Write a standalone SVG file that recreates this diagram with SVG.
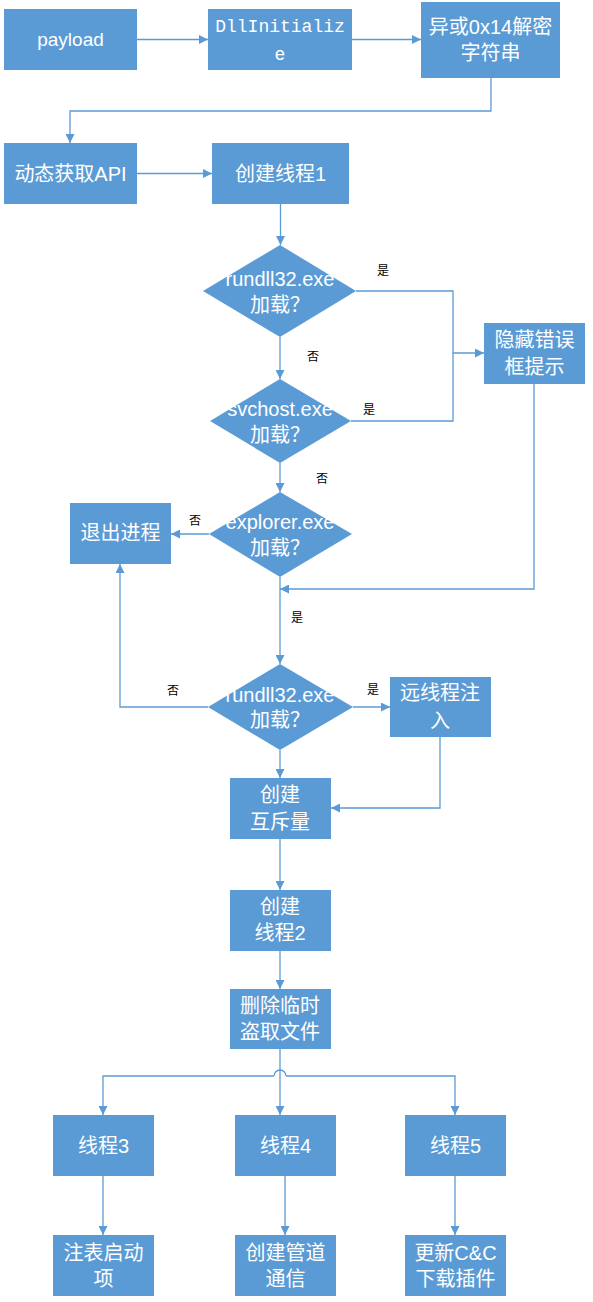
<svg xmlns="http://www.w3.org/2000/svg" width="593" height="1302" viewBox="0 0 593 1302">
<style>
.n{fill:#5B9BD5;}
.t{fill:#fff;font-family:"Liberation Sans","Noto Sans CJK SC",sans-serif;font-size:20px;text-anchor:middle;dominant-baseline:central;}
.mono{font-family:"Liberation Mono","Noto Sans CJK SC",monospace;font-size:18px;}
.c{fill:none;stroke:#5B9BD5;stroke-width:1.3;}
.a{marker-end:url(#ah);}
.l{fill:#000;font-family:"Liberation Sans","Noto Sans CJK SC",sans-serif;font-size:12px;text-anchor:middle;dominant-baseline:central;}
</style>
<defs>
<marker id="ah" markerUnits="userSpaceOnUse" markerWidth="9" markerHeight="9" viewBox="0 0 9 9" refX="9" refY="4.5" orient="auto">
<path d="M0,0 L9,4.5 L0,9 z" fill="#5B9BD5"/>
</marker>
</defs>
<rect width="593" height="1302" fill="#fff"/>
<g id="connectors">
<path class="c a" d="M137 39.5 H208"/>
<path class="c a" d="M352 39.5 H421"/>
<path class="c a" d="M491 78 V111 H70 V143"/>
<path class="c a" d="M137 173.5 H212"/>
<path class="c a" d="M280.5 204 V245"/>
<path class="c a" d="M356 291 H453 V353 H484"/>
<path class="c" d="M351 421 H453 V353"/>
<path class="c a" d="M280 337 V379"/>
<path class="c a" d="M280 463 V492"/>
<path class="c a" d="M209 534 H171"/>
<path class="c a" d="M534 384 V589 H280"/>
<path class="c a" d="M280 577 V664"/>
<path class="c a" d="M208 707 H120 V564"/>
<path class="c a" d="M353 707 H390"/>
<path class="c a" d="M280 750 V778"/>
<path class="c a" d="M440 737 V808 H331"/>
<path class="c a" d="M280 839 V890"/>
<path class="c a" d="M280 951 V989"/>
<path class="c a" d="M280 1049 V1115"/>
<path class="c a" d="M274 1076 H103 V1115"/>
<path class="c a" d="M286 1076 H455 V1115"/>
<path class="c" d="M274 1076 A6 6 0 0 1 286 1076"/>
<path class="c a" d="M103 1176 V1235"/>
<path class="c a" d="M285 1176 V1235"/>
<path class="c a" d="M455 1176 V1235"/>
</g>
<g id="labels">
<text class="l" x="383" y="271">是</text>
<text class="l" x="313" y="357">否</text>
<text class="l" x="369" y="410">是</text>
<text class="l" x="322" y="479">否</text>
<text class="l" x="195" y="521">否</text>
<text class="l" x="297" y="618">是</text>
<text class="l" x="173" y="691">否</text>
<text class="l" x="373" y="690">是</text>
</g>
<g id="payload"><rect class="n" x="4" y="9" width="133" height="61"/><text class="t" x="70.5" y="39.5" style="font-size:19px">payload</text></g>
<g id="dllinit"><rect class="n" x="208" y="9" width="144" height="61"/><text class="t mono" x="280" y="27">DllInitializ</text><text class="t mono" x="280" y="55">e</text></g>
<g id="xor"><rect class="n" x="421" y="2" width="139" height="76"/><text class="t" x="490.5" y="27">异或0x14解密</text><text class="t" x="490.5" y="53">字符串</text></g>
<g id="getapi"><rect class="n" x="4" y="143" width="133" height="61"/><text class="t" x="70.5" y="173.5">动态获取API</text></g>
<g id="thread1"><rect class="n" x="212" y="143" width="137" height="61"/><text class="t" x="280.5" y="173.5">创建线程1</text></g>
<g id="d1"><polygon class="n" points="280,245 356,291 280,337 203,291"/><text class="t" x="280" y="279">rundll32.exe</text><text class="t" x="280" y="305">加载？</text></g>
<g id="hide"><rect class="n" x="484" y="323" width="101" height="61"/><text class="t" x="534.5" y="340">隐藏错误</text><text class="t" x="534.5" y="367">框提示</text></g>
<g id="d2"><polygon class="n" points="280,379 351,421 280,463 210,421"/><text class="t" x="280" y="409">svchost.exe</text><text class="t" x="280" y="435">加载？</text></g>
<g id="d3"><polygon class="n" points="280,492 352,534 280,577 209,534"/><text class="t" x="280" y="522">explorer.exe</text><text class="t" x="280" y="548">加载？</text></g>
<g id="exit"><rect class="n" x="70" y="503" width="101" height="61"/><text class="t" x="120.5" y="533">退出进程</text></g>
<g id="d4"><polygon class="n" points="280,664 353,707 280,750 208,707"/><text class="t" x="280" y="695">rundll32.exe</text><text class="t" x="280" y="720">加载？</text></g>
<g id="inject"><rect class="n" x="390" y="677" width="101" height="60"/><text class="t" x="440" y="693">远线程注</text><text class="t" x="440" y="721">入</text></g>
<g id="mutex"><rect class="n" x="230" y="778" width="101" height="61"/><text class="t" x="280" y="795">创建</text><text class="t" x="280" y="822">互斥量</text></g>
<g id="thread2"><rect class="n" x="230" y="890" width="101" height="61"/><text class="t" x="280" y="907">创建</text><text class="t" x="280" y="933">线程2</text></g>
<g id="delete"><rect class="n" x="230" y="989" width="101" height="60"/><text class="t" x="280" y="1006">删除临时</text><text class="t" x="280" y="1032">盗取文件</text></g>
<g id="thread3"><rect class="n" x="53" y="1115" width="101" height="61"/><text class="t" x="103.5" y="1146">线程3</text></g>
<g id="thread4"><rect class="n" x="235" y="1115" width="101" height="61"/><text class="t" x="285.5" y="1146">线程4</text></g>
<g id="thread5"><rect class="n" x="405" y="1115" width="101" height="61"/><text class="t" x="455.5" y="1146">线程5</text></g>
<g id="reg"><rect class="n" x="53" y="1235" width="101" height="61"/><text class="t" x="103.5" y="1253">注表启动</text><text class="t" x="103.5" y="1279">项</text></g>
<g id="pipe"><rect class="n" x="235" y="1235" width="101" height="61"/><text class="t" x="285.5" y="1253">创建管道</text><text class="t" x="285.5" y="1279">通信</text></g>
<g id="cc"><rect class="n" x="405" y="1235" width="101" height="61"/><text class="t" x="455.5" y="1253">更新C&amp;C</text><text class="t" x="455.5" y="1279">下载插件</text></g>
</svg>
